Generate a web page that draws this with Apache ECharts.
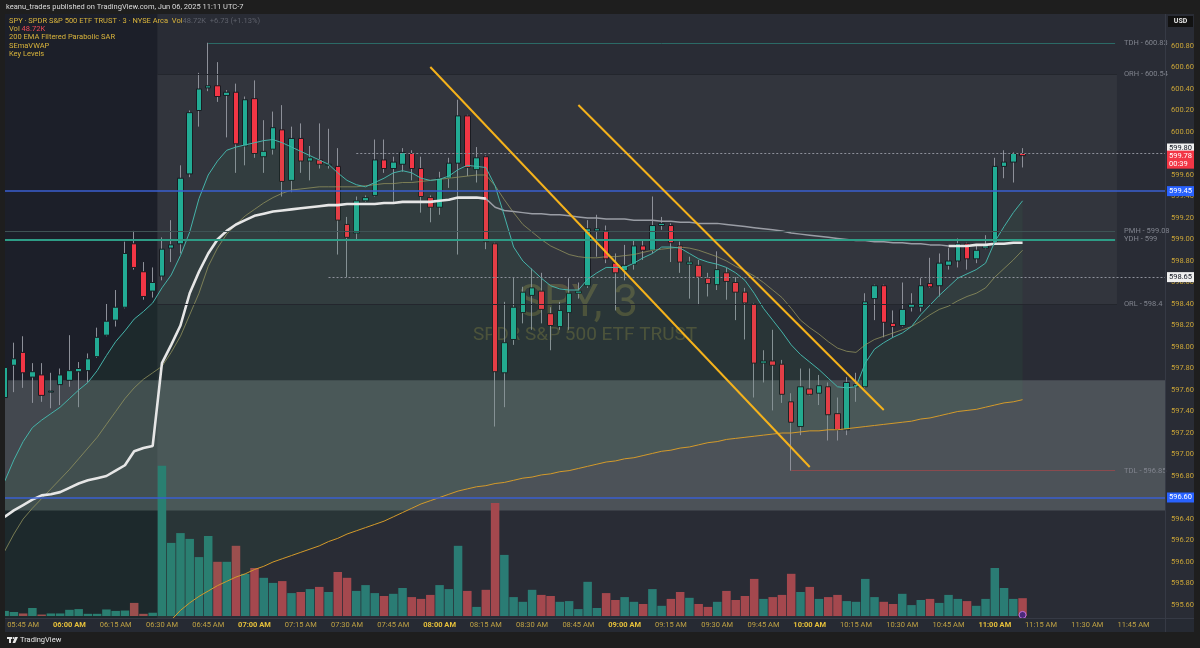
<!DOCTYPE html>
<html><head><meta charset="utf-8">
<script src="https://cdn.jsdelivr.net/npm/echarts@6.0.0/dist/echarts.min.js"></script>
<style>html,body{margin:0;padding:0;background:#1e1e1e;}#chart{width:1200px;height:648px;}</style>
</head><body><div id="chart"></div>
<script>
// ---------- DATA ----------
const times = ["05:39","05:42","05:45","05:48","05:51","05:54","05:57",
"06:00","06:03","06:06","06:09","06:12","06:15","06:18","06:21","06:24","06:27","06:30","06:33","06:36","06:39","06:42","06:45","06:48","06:51","06:54","06:57",
"07:00","07:03","07:06","07:09","07:12","07:15","07:18","07:21","07:24","07:27","07:30","07:33","07:36","07:39","07:42","07:45","07:48","07:51","07:54","07:57",
"08:00","08:03","08:06","08:09","08:12","08:15","08:18","08:21","08:24","08:27","08:30","08:33","08:36","08:39","08:42","08:45","08:48","08:51","08:54","08:57",
"09:00","09:03","09:06","09:09","09:12","09:15","09:18","09:21","09:24","09:27","09:30","09:33","09:36","09:39","09:42","09:45","09:48","09:51","09:54","09:57",
"10:00","10:03","10:06","10:09","10:12","10:15","10:18","10:21","10:24","10:27","10:30","10:33","10:36","10:39","10:42","10:45","10:48","10:51","10:54","10:57",
"11:00","11:03","11:06","11:09","11:12","11:15","11:18","11:21","11:24","11:27","11:30","11:33","11:36","11:39","11:42","11:45","11:48","11:51","11:54"];

const opens = [597.53,597.83,597.95,597.72,597.74,597.58,597.65,597.69,597.77,597.78,
597.91,598.11,598.25,598.37,598.96,598.70,598.52,598.66,598.92,598.96,
599.61,600.20,600.41,600.43,600.34,600.37,599.87,600.31,599.77,599.84,
600.02,599.55,599.94,599.73,599.74,599.69,599.68,599.14,599.06,599.36,
599.41,599.74,599.66,599.70,599.80,599.66,599.39,599.30,599.57,599.71,
600.15,599.65,599.77,598.96,597.76,598.07,598.32,598.48,598.52,598.31,
598.19,598.32,598.50,598.57,599.08,599.08,598.78,598.71,598.77,598.94,
598.90,599.13,599.13,598.94,598.77,598.76,598.64,598.58,598.69,598.60,
598.51,598.40,597.85,597.87,597.84,597.49,597.26,597.61,597.57,597.63,
597.38,597.23,597.63,597.63,598.45,598.57,598.22,598.20,598.37,598.37,
598.59,598.57,598.76,598.80,598.96,598.82,598.92,598.97,599.68,599.72,599.80];
const closes = [597.81,597.89,597.76,597.77,597.55,597.59,597.74,597.78,597.80,597.89,
598.09,598.24,598.37,598.87,598.74,598.47,598.60,598.91,598.95,599.57,
600.18,600.40,600.43,600.33,600.37,599.89,600.30,599.80,599.82,600.04,
599.54,599.94,599.73,599.76,599.70,599.70,599.18,599.02,599.36,599.39,
599.74,599.66,599.72,599.81,599.66,599.40,599.30,599.57,599.71,600.15,
599.67,599.76,598.98,597.77,598.04,598.37,598.51,598.55,598.35,598.20,
598.34,598.50,598.52,599.10,599.10,598.82,598.69,598.76,598.94,598.90,
599.13,599.15,598.97,598.79,598.79,598.65,598.59,598.72,598.61,598.51,
598.41,597.85,597.87,597.83,597.56,597.30,597.63,597.56,597.64,597.37,
597.23,597.67,597.65,598.42,598.57,598.23,598.19,598.35,598.40,598.57,
598.56,598.78,598.80,598.96,598.82,598.90,598.94,599.68,599.72,599.80,599.78];
const lows = [597.41,597.58,597.62,597.48,597.49,597.43,597.46,597.63,597.44,597.67,
597.90,598.10,598.19,598.36,598.72,598.44,598.46,598.62,598.79,598.87,
599.58,600.05,600.38,600.28,599.95,599.62,599.69,599.76,599.62,599.79,
599.40,599.44,599.62,599.55,599.66,599.66,598.86,598.65,599.00,599.35,
599.40,599.62,599.35,599.63,599.55,599.25,599.16,599.23,599.48,598.86,
599.59,599.53,598.91,597.26,597.44,598.02,598.22,598.16,598.22,597.97,
598.16,598.16,598.45,598.55,598.84,598.78,598.34,598.62,598.72,598.81,
598.87,599.09,598.79,598.69,598.45,598.39,598.47,598.53,598.44,598.25,
598.07,597.53,597.67,597.41,597.48,596.85,597.18,597.55,597.46,597.13,
597.13,597.18,597.49,597.62,598.25,598.09,598.09,598.19,598.33,598.33,
598.55,598.47,598.72,598.74,598.72,598.78,598.91,598.96,599.57,599.53,599.67];
const highs = [597.83,598.04,598.10,597.85,597.85,597.76,597.80,598.11,597.86,597.94,
598.18,598.40,598.53,598.98,599.08,598.79,598.74,599.02,599.18,599.69,
600.20,600.55,600.83,600.65,600.39,600.45,600.33,600.48,600.11,600.19,
600.25,600.05,600.08,599.87,600.08,600.03,599.85,599.21,599.40,599.41,
599.93,599.93,599.77,599.85,599.83,599.77,599.41,599.63,599.76,600.30,
600.16,599.86,599.78,598.97,598.42,598.65,598.56,598.73,598.69,598.37,
598.42,598.64,598.60,599.18,599.23,599.13,598.87,598.95,599.00,598.99,
599.40,599.21,599.15,598.98,598.84,598.81,598.69,598.89,598.74,598.65,
598.55,598.41,597.97,598.16,597.88,597.57,597.80,597.80,597.74,597.67,
597.53,597.72,597.76,598.50,598.58,598.58,598.34,598.60,598.50,598.64,
598.83,598.87,598.92,599.01,598.97,598.95,599.04,599.76,599.83,599.81,599.85];
const volumesK = [14,11,7,22,4,7,7,17,19,6,
6,18,14,15,36,6,9,413,201,228,
212,162,220,149,149,193,116,132,105,91,
96,63,66,74,80,66,121,105,69,85,
63,55,61,77,52,47,58,85,74,193,
69,25,72,311,168,52,39,72,58,55,
39,41,19,94,22,63,44,52,39,33,
74,28,47,66,50,33,25,39,69,44,
55,102,47,52,58,116,66,80,47,52,
58,41,39,102,52,39,33,61,30,44,
47,36,58,47,41,28,47,132,77,47,49];
const emaFast = [596.75,596.95,597.12,597.25,597.32,597.38,597.44,597.52,597.60,597.67,
597.78,597.92,598.05,598.15,598.26,598.33,598.41,598.55,598.67,598.85,
599.07,599.38,599.60,599.73,599.83,599.86,599.88,599.90,599.92,599.93,
599.90,599.86,599.82,599.78,599.74,599.70,599.62,599.55,599.51,599.49,
599.53,599.57,599.62,599.64,599.62,599.57,599.55,599.56,599.59,599.65,
599.69,599.68,599.67,599.50,599.22,598.93,598.80,598.72,598.64,598.57,
598.54,598.53,598.53,598.63,598.69,598.74,598.74,598.74,598.78,598.83,
598.87,598.93,598.93,598.92,598.87,598.82,598.79,598.77,598.74,598.69,
598.62,598.50,598.36,598.25,598.14,598.02,597.93,597.86,597.79,597.71,
597.63,597.62,597.63,597.85,597.98,598.04,598.09,598.13,598.19,598.30,
598.39,598.48,598.56,598.64,598.68,598.72,598.78,598.98,599.12,599.25,599.36];
const emaSlow = [596.10,596.26,596.40,596.50,596.59,596.68,596.77,596.86,596.96,597.06,
597.16,597.28,597.40,597.52,597.62,597.70,597.76,597.82,597.95,598.10,
598.30,598.50,598.75,598.92,599.05,599.14,599.22,599.28,599.34,599.39,
599.43,599.46,599.47,599.48,599.49,599.49,599.49,599.49,599.49,599.50,
599.51,599.52,599.52,599.53,599.53,599.54,599.55,599.56,599.57,599.58,
599.59,599.60,599.60,599.50,599.37,599.25,599.14,599.07,599.00,598.94,
598.90,598.86,598.84,598.83,598.83,598.84,598.84,598.85,598.86,598.88,
598.90,598.91,598.92,598.93,598.92,598.90,598.87,598.84,598.80,598.75,
598.71,598.66,598.60,598.53,598.46,598.36,598.25,598.18,598.12,598.05,
597.99,597.96,597.95,598.02,598.07,598.10,598.13,598.16,598.19,598.24,
598.30,598.35,598.38,598.43,598.47,598.50,598.55,598.65,598.73,598.81,598.90];
const vwap = [596.42,596.48,596.53,596.58,596.62,596.63,596.65,596.69,596.73,596.76,
596.78,596.80,596.85,596.90,597.03,597.06,597.08,597.85,598.02,598.20,
598.50,598.70,598.87,599.00,599.08,599.14,599.18,599.22,599.24,599.26,
599.27,599.28,599.29,599.30,599.31,599.32,599.32,599.33,599.33,599.33,
599.33,599.34,599.34,599.35,599.35,599.35,599.35,599.36,599.37,599.39,
599.39,599.39,599.38,599.30,599.27,599.26,599.25,599.24,599.24,599.23,
599.23,599.22,599.21,599.20,599.20,599.19,599.19,599.19,599.18,599.18,
599.18,599.17,599.17,599.16,599.16,599.15,599.15,599.15,599.14,599.13,
599.12,599.11,599.10,599.09,599.08,599.06,599.05,599.04,599.03,599.02,
599.01,599.00,598.99,598.99,598.98,598.98,598.97,598.97,598.96,598.96,
598.95,598.95,598.94,598.94,598.94,598.95,598.95,598.96,598.96,598.97,598.97];
const ema200 = [null,null,null,null,null,null,null,null,null,null,
null,null,null,null,null,null,null,null,595.46,595.55,
595.62,595.68,595.73,595.78,595.82,595.86,595.89,595.93,595.96,596.00,
596.03,596.06,596.09,596.12,596.15,596.19,596.22,596.26,596.29,596.32,
596.35,596.38,596.42,596.46,596.50,596.54,596.57,596.60,596.63,596.66,
596.68,596.70,596.71,596.73,596.74,596.76,596.78,596.79,596.81,596.82,
596.84,596.85,596.87,596.89,596.91,596.93,596.94,596.96,596.97,596.99,
597.01,597.03,597.04,597.06,597.07,597.09,597.11,597.12,597.14,597.15,
597.16,597.17,597.18,597.19,597.20,597.20,597.21,597.22,597.22,597.23,
597.23,597.24,597.25,597.26,597.27,597.28,597.29,597.30,597.31,597.33,
597.34,597.36,597.38,597.40,597.41,597.42,597.44,597.46,597.48,597.49,597.51];
// VWAP drawn thick (price above) on these ranges, thin otherwise
const vwapThickRanges = [[0, 52], [102, 110]];

const keyLevels = [
  {name:'TDH', price:600.83, text:'TDH - 600.83', from:'06:45', to:'11:39'},
  {name:'ORH', price:600.54, text:'ORH - 600.54', from:'06:30', to:'11:39'},
  {name:'PMH', price:599.08, text:'PMH - 599.08', from:'05:39', to:'11:39'},
  {name:'YDH', price:599.00, text:'YDH - 599',    from:'05:39', to:'11:39'},
  {name:'ORL', price:598.40, text:'ORL - 598.4',  from:'06:30', to:'11:39'},
  {name:'TDL', price:596.85, text:'TDL - 596.85', from:'09:54', to:'11:39'}
];
const zoneTop = 597.69, zoneBottom = 596.48;
const blueLines = [599.45, 596.60];
const dottedLines = [{price:599.80, from:'07:33'}, {price:598.65, from:'07:24'}];
const lastPrice = 599.78, countdown = '00:39';
const trendLines = [[['07:57', 600.605], ['10:00', 596.884]], [['08:45', 600.251], ['10:24', 597.414]]];

// ---------- LAYOUT CONSTANTS ----------
const PANE_TOP = 601.10, PANE_BOTTOM = 595.48;
const N = times.length;
const idx = t => times.indexOf(t);
const UP = '#22ab94', DOWN = '#f23645';
const CLEAR = 'rgba(0,0,0,0)';

const bodies = opens.map((o, i) => [o, closes[i], Math.min(o, closes[i]), Math.max(o, closes[i])]);
const wicks = opens.map((o, i) => [o, closes[i], lows[i], highs[i]]);
const volData = volumesK.map((v, i) => ({value: v, itemStyle: {color: closes[i] >= opens[i] ? '#2a7c74' : '#a4484e'}}));
const fillBase = emaFast.map((_, i) => ema200[i] == null ? PANE_BOTTOM : ema200[i]);
const fillTop = emaFast.map((v, i) => +(v - fillBase[i]).toFixed(3));
function inRanges(i, rs) { return rs.some(r => i >= r[0] && i <= r[1]); }
const vwapThick = vwap.map((v, i) => inRanges(i, vwapThickRanges) ? v : null);
const vwapThin = vwap.map((v, i) => (i >= 52 && i <= 102) ? v : null);

const bgAreas = [
  [{coord:[-0.5, PANE_TOP], itemStyle:{color:'rgba(12,14,26,0.42)'}}, {coord:[idx('06:27') + 0.5, PANE_BOTTOM]}],
  [{coord:[idx('06:30') - 0.5, 600.54], itemStyle:{color:'rgba(255,255,255,0.045)'}}, {coord:[idx('11:39') + 0.2, 598.40]}]
];
const zoneArea = [[{coord:[-0.5, zoneTop], itemStyle:{color:'rgba(185,195,195,0.25)'}}, {coord:[N - 0.5, zoneBottom]}]];

const levelLines = [];
const levelColors = {TDH:'#2b6a66', ORH:'#23262d', PMH:'#3f5254', YDH:'#2e9c86', ORL:'#23262d', TDL:'#8a4a4e'};
const levelWidths = {TDH:1, ORH:1, PMH:1, YDH:2, ORL:1, TDL:1};
keyLevels.forEach(k => {
  const x0 = k.from === '06:30' ? idx(k.from) - 0.5 : (k.from === '05:39' ? -0.5 : idx(k.from));
  const x1 = (k.name === 'ORH' || k.name === 'ORL') ? idx(k.to) + 0.2 : idx(k.to);
  const ls = {color: levelColors[k.name], width: levelWidths[k.name], type: 'solid'};
  const lb = {show:true, position:'end', formatter:k.text, color:'#80848e', fontSize:7.5, distance:(k.name==='ORH'||k.name==='ORL')?7:9, fontFamily:'Roboto'};
  levelLines.push([{coord:[x0, k.price], lineStyle:ls, label:lb}, {coord:[x1, k.price], lineStyle:ls, label:lb}]);
});
blueLines.forEach(p => {
  const ls = {color: '#3a5fd0', width: 1.5, type:'solid', opacity:1};
  levelLines.push([{coord:[-0.5, p], lineStyle:ls, label:{show:false}}, {coord:[N - 0.5, p], lineStyle:ls, label:{show:false}}]);
});
dottedLines.forEach(d => {
  const ls = {color:'#8d909a', width:1, type:[2,2]};
  levelLines.push([{coord:[idx(d.from), d.price], lineStyle:ls, label:{show:false}}, {coord:[N - 0.5, d.price], lineStyle:ls, label:{show:false}}]);
});

const topLines = [];
trendLines.forEach(t => {
  const ls = {color:'#f5b21b', width:2, type:'solid'};
  topLines.push([{coord:[idx(t[0][0]), t[0][1]], lineStyle:ls, label:{show:false}}, {coord:[idx(t[1][0]), t[1][1]], lineStyle:ls, label:{show:false}}]);
});
function tag(price, text, bg, fg, dy) {
  return {yAxis:price, lineStyle:{color:CLEAR, width:1, type:'solid'},
    label:{show:true, position:'end', distance:1, formatter:text, backgroundColor:bg, color:fg, padding:[1,2,1,2],
      fontSize:7.5, lineHeight:8, fontFamily:'Roboto', offset:[0, dy]}};
}
blueLines.forEach(p => topLines.push(tag(p, p.toFixed(2), '#2962ff', '#ffffff', 0)));
dottedLines.forEach((d, j) => topLines.push(tag(d.price, d.price.toFixed(2), '#f0f0f0', '#131722', j === 0 ? -5 : 0)));
topLines.push(tag(lastPrice, lastPrice.toFixed(2) + '\n' + countdown, '#f23645', '#ffffff', 4));

const chart = echarts.init(document.getElementById('chart'), null, {renderer:'canvas'});
const dummy = (name, extra) => Object.assign({name, type:'line', xAxisIndex:1, yAxisIndex:0, data:[[-10, 598]], symbol:'none', lineStyle:{color:CLEAR}, silent:true, animation:false}, extra);
const lineS = (name, data, color, width, extra) => Object.assign({name, type:'line', xAxisIndex:0, yAxisIndex:0, data, symbol:'none', connectNulls:false, lineStyle:{color, width}, silent:true}, extra || {});

chart.setOption({
  backgroundColor:'#292c35',
  animation:false,
  textStyle:{fontFamily:'Roboto, sans-serif'},
  grid:[
    {left:0, right:34, top:3, bottom:21.5},
    {left:0, right:34, bottom:32, height:200}
  ],
  xAxis:[
    {type:'category', data:times, gridIndex:0, show:false, boundaryGap:true},
    {type:'value', gridIndex:0, min:-0.5, max:N - 0.5, show:false},
    {type:'category', data:times, gridIndex:1, boundaryGap:true, z:120,
      axisLine:{show:false}, axisTick:{show:false}, splitLine:{show:false},
      axisLabel:{show:true, margin:5, fontSize:7.5,
        interval:(i, v) => ['00','15','30','45'].includes(v.slice(3)),
        formatter:v => v.endsWith(':00') ? '{b|' + v + ' AM}' : '{n|' + v + ' AM}',
        rich:{b:{color:'#e6c03a', fontWeight:'bold', fontSize:7.5, fontFamily:'Roboto'}, n:{color:'#bfa244', fontSize:7.5, fontFamily:'Roboto'}}}}
  ],
  yAxis:[
    {type:'value', gridIndex:0, position:'right', min:595.4, max:601.2, interval:0.2, scale:true,
      axisLine:{show:false}, axisTick:{show:false}, splitLine:{show:false},
      axisLabel:{color:'#c9a437', fontSize:7.5, margin:5, fontFamily:'Roboto',
        formatter:v => (v > 600.85 || v < 595.55) ? '' : v.toFixed(2)}},
    {type:'value', gridIndex:1, min:0, max:550, show:false}
  ],
  series:[
    dummy('bg', {markArea:{silent:true, data:bgAreas}}),
    {name:'Volume', type:'bar', xAxisIndex:2, yAxisIndex:1, data:volData, barWidth:'92%', silent:true,
      markPoint:{symbol:'circle', symbolSize:7, data:[{coord:['11:09', 3]}], itemStyle:{color:'#4a2a7a', borderColor:'#c070e0', borderWidth:1}, label:{show:false}}},
    dummy('zone', {markArea:{silent:true, data:zoneArea}}),
    lineS('fillBase', fillBase, CLEAR, 0, {stack:'fill'}),
    lineS('fillTop', fillTop, CLEAR, 0, {stack:'fill', areaStyle:{color:'rgba(50,170,90,0.11)'}}),
    dummy('levels', {markLine:{silent:true, symbol:['none','none'], animation:false, data:levelLines}}),
    lineS('EMA200', ema200, '#d49a2a', 1),
    lineS('EMA slow', emaSlow, 'rgba(150,150,95,0.75)', 1),
    lineS('VWAP thin', vwapThin, '#9a9da5', 1.5),
    lineS('VWAP', vwapThick, '#e6e6e6', 2.6),
    lineS('EMA fast', emaFast, '#45b3a9', 1),
    {name:'wicks', type:'candlestick', xAxisIndex:0, yAxisIndex:0, data:wicks, barWidth:1, silent:true,
      itemStyle:{color:'#8d9099', color0:'#8d9099', borderColor:'#8d9099', borderColor0:'#8d9099', borderWidth:1}},
    {name:'SPY', type:'candlestick', xAxisIndex:0, yAxisIndex:0, data:bodies, barWidth:6, silent:true,
      itemStyle:{color:UP, color0:DOWN, borderColor:'#1a1c22', borderColor0:'#1a1c22', borderWidth:1}},
    dummy('drawings', {markLine:{silent:true, symbol:['none','none'], animation:false, data:topLines}})
  ],
  graphic:[
    {type:'text', z:1, silent:true, style:{text:'SPY, 3', x:578, y:305, textAlign:'center', textVerticalAlign:'middle', align:'center', verticalAlign:'middle', font:'44px Roboto, sans-serif', fill:'rgba(190,175,70,0.26)'}},
    {type:'text', z:1, silent:true, style:{text:'SPDR S&P 500 ETF TRUST', x:585, y:335, textAlign:'center', textVerticalAlign:'middle', align:'center', verticalAlign:'middle', font:'19px Roboto, sans-serif', fill:'rgba(190,175,70,0.26)'}},
    {type:'rect', z:100, silent:true, shape:{x:5, y:618, width:1189, height:14}, style:{fill:'#262a33'}},
    {type:'rect', z:100, silent:true, shape:{x:0, y:0, width:1200, height:14}, style:{fill:'#1e1e1e'}},
    {type:'rect', z:100, silent:true, shape:{x:0, y:632, width:1200, height:16}, style:{fill:'#1e1e1e'}},
    {type:'rect', z:100, silent:true, shape:{x:0, y:0, width:5, height:648}, style:{fill:'#1e1e1e'}},
    {type:'rect', z:100, silent:true, shape:{x:1194, y:0, width:6, height:648}, style:{fill:'#1e1e1e'}},
    {type:'line', z:101, silent:true, shape:{x1:5, y1:618.5, x2:1194, y2:618.5}, style:{stroke:'#363a45', lineWidth:1}},
    {type:'line', z:101, silent:true, shape:{x1:1165.5, y1:14, x2:1165.5, y2:632}, style:{stroke:'#363a45', lineWidth:1}},
    {type:'rect', z:102, silent:true, shape:{x:1168, y:16, width:25, height:11}, style:{fill:'#121212'}},
    {type:'text', z:103, silent:true, style:{text:'USD', x:1180.5, y:21.5, textAlign:'center', textVerticalAlign:'middle', align:'center', verticalAlign:'middle', font:'bold 7px Roboto, sans-serif', fill:'#e8e8e8'}},
    {type:'text', z:103, silent:true, style:{text:'keanu_trades published on TradingView.com, Jun 06, 2025 11:11 UTC-7', x:6, y:7, textVerticalAlign:'middle', verticalAlign:'middle', font:'7.5px Roboto, sans-serif', fill:'#dcdcdc'}},
    {type:'text', z:103, silent:true, style:{text:'{y|SPY · SPDR S&P 500 ETF TRUST · 3 · NYSE Arca  Vol}{g|48.72K  +6.73 (+1.13%)}', x:9, y:21.5, textVerticalAlign:'middle', verticalAlign:'middle', font:'7.5px Roboto, sans-serif', fill:'#d9b43c',
      rich:{y:{fill:'#d9b43c', font:'7.5px Roboto, sans-serif'}, g:{fill:'#5e616b', font:'7.5px Roboto, sans-serif'}}}},
    {type:'text', z:103, silent:true, style:{text:'{y|Vol }{r|48.72K}', x:9, y:29.5, textVerticalAlign:'middle', verticalAlign:'middle', font:'7.5px Roboto, sans-serif', fill:'#d9b43c',
      rich:{y:{fill:'#d9b43c', font:'7.5px Roboto, sans-serif'}, r:{fill:'#ef4a56', font:'7.5px Roboto, sans-serif'}}}},
    {type:'text', z:103, silent:true, style:{text:'200 EMA Filtered Parabolic SAR', x:9, y:37.5, textVerticalAlign:'middle', verticalAlign:'middle', font:'7.5px Roboto, sans-serif', fill:'#d9b43c'}},
    {type:'text', z:103, silent:true, style:{text:'SEmaVWAP', x:9, y:45.8, textVerticalAlign:'middle', verticalAlign:'middle', font:'7.5px Roboto, sans-serif', fill:'#d9b43c'}},
    {type:'text', z:103, silent:true, style:{text:'Key Levels', x:9, y:54, textVerticalAlign:'middle', verticalAlign:'middle', font:'7.5px Roboto, sans-serif', fill:'#d9b43c'}},
    {type:'rect', z:103, silent:true, shape:{x:7, y:637, width:5, height:2}, style:{fill:'#e6e6e6'}},
    {type:'rect', z:103, silent:true, shape:{x:9, y:637, width:2, height:6}, style:{fill:'#e6e6e6'}},
    {type:'circle', z:103, silent:true, shape:{cx:13.5, cy:638, r:1}, style:{fill:'#e6e6e6'}},
    {type:'polygon', z:103, silent:true, shape:{points:[[15,637],[18,637],[15.2,643],[12.5,643]]}, style:{fill:'#e6e6e6'}},
    {type:'text', z:103, silent:true, style:{text:'TradingView', x:20, y:640.5, textVerticalAlign:'middle', verticalAlign:'middle', font:'7.5px Roboto, sans-serif', fill:'#e6e6e6'}}
  ]
});
</script>
</body></html>
